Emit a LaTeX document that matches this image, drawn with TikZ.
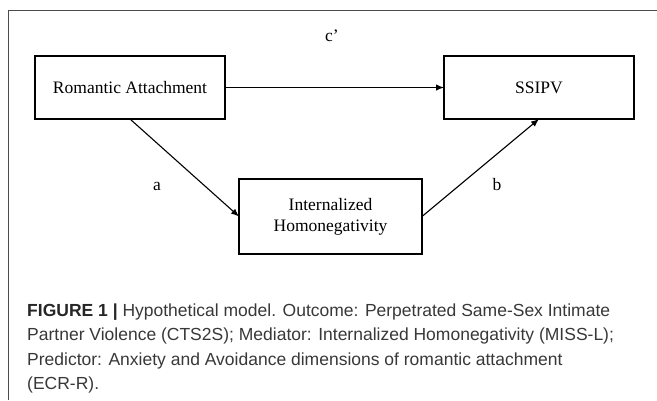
\documentclass[tikz,border=0pt]{standalone}
\usepackage{fontspec}
\setmainfont{Liberation Serif}
\setsansfont{Liberation Sans}
\usepackage{tikz}
\usepackage{xcolor}
\usetikzlibrary{positioning}
\usetikzlibrary{arrows.meta}

\begin{document}
\begin{tikzpicture}
[
x=1pt, y=-1pt,
box-a/.style={rectangle, draw, line width=1.6pt, inner sep=0pt, outer sep=0pt,
              minimum width=190pt, minimum height=63pt, align=center,
              font=\fontsize{17.5}{21}\selectfont},
box-b/.style={box-a, minimum width=183pt, minimum height=75pt},
text-a/.style={black, inner sep=0pt, font=\fontsize{17.5}{21}\selectfont},
line-a/.style={line width=1.1pt, -{Latex[length=8pt, width=6.5pt]}},
text-b/.style={black!78, inner sep=0pt, align=left,
               font=\sffamily\fontsize{17.5}{24.4}\selectfont}
]
\useasboundingbox (0,0) rectangle (657,400);
% frame
\draw [black!70, line width=1pt] (8,400) -- (8,10) -- (657,10);
% model
\node (romantic) [box-a]                            at (130,87.5)  {Romantic Attachment};
\node (ssipv)    [box-a, right = 219pt of romantic]                {SSIPV};
\node (homoneg)  [box-b]                            at (330.5,216.5) {Internalized\\Homonegativity};
\draw [line-a] (romantic) -- (ssipv);
\draw [line-a] (romantic.south) -- (homoneg.west);
\draw [line-a] (homoneg.east) -- (ssipv.south);
\node (lab-c)    [text-a] at (332,36)  {c’};
\node (lab-a)    [text-a] at (157,186) {a};
\node (lab-b)    [text-a] at (497,185) {b};
% caption
\node (caption)  [text-b, anchor=north west] at (27,303.5)
  {{\bfseries\color{black!85}FIGURE 1 |} Hypothetical model. Outcome: Perpetrated Same-Sex Intimate\\
   Partner Violence (CTS2S); Mediator: Internalized Homonegativity (MISS-L);\\
   Predictor: Anxiety and Avoidance dimensions of romantic attachment\\
   (ECR-R).};
\end{tikzpicture}
\end{document}
